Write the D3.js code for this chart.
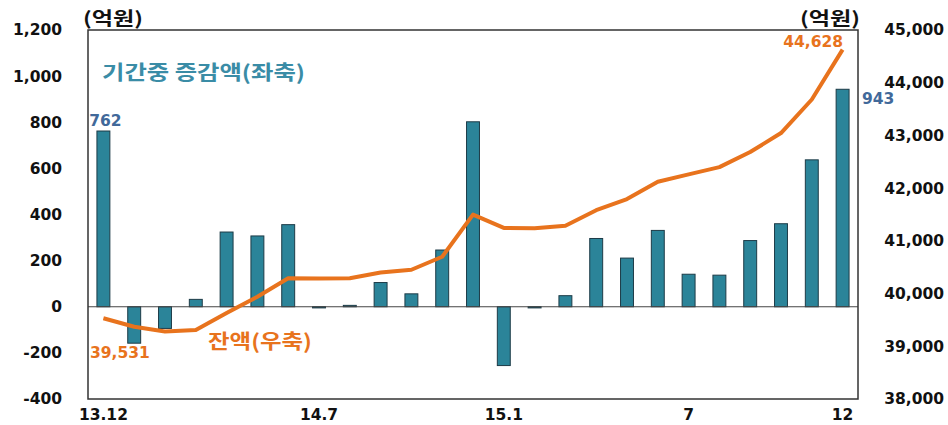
<!DOCTYPE html>
<html>
<head>
<meta charset="utf-8">
<script src="https://cdn.jsdelivr.net/npm/d3@7"></script>
<style>
  body { margin: 0; background: #fff; }
  svg { display: block; }
  .num { font-family: "DejaVu Sans", Verdana, sans-serif; font-weight: bold; }
  .kr { font-family: "Noto Sans CJK KR", "Noto Sans", sans-serif; font-weight: bold; }
</style>
</head>
<body>
<svg class="chart" width="948" height="425"></svg>
<script>
// months 13.12 ~ 15.12
const months = ["13.12","14.1","14.2","14.3","14.4","14.5","14.6","14.7","14.8","14.9","14.10","14.11","14.12",
  "15.1","15.2","15.3","15.4","15.5","15.6","15.7","15.8","15.9","15.10","15.11","15.12"]
const xTickMonths = ["13.12","14.7","15.1","15.7","15.12"]
const xTickLabels = ["13.12","14.7","15.1","7","12"]

// 기간중 증감액 (left axis, 억원)
const changeValues = [762, -158, -94, 32, 324, 307, 356, -5, 6, 105, 56, 246, 802,
  -255, -5, 48, 296, 211, 331, 141, 137, 287, 360, 637, 943]
// 잔액 (right axis, 억원)
const balanceValues = [39531, 39371, 39280, 39310, 39630, 39940, 40290, 40285, 40292, 40398, 40452, 40698, 41498,
  41245, 41240, 41288, 41582, 41792, 42122, 42262, 42398, 42685, 43045, 43682, 44628]

const leftTicks = [-400, -200, 0, 200, 400, 600, 800, 1000, 1200]
const rightTicks = [38000, 39000, 40000, 41000, 42000, 43000, 44000, 45000]

const svg = d3.select("svg.chart")
const plotL = 88, plotR = 858, plotT = 30, plotB = 399

// hyphen instead of unicode minus, like the original
const fmt = d => d3.format(",")(d).replace("\u2212", "-")

const x = d3.scaleBand()
  .domain(months)
  .range([plotL, plotR])
  .paddingInner(0.58)
  .paddingOuter(0.29)

const yL = d3.scaleLinear().domain([-400, 1200]).range([plotB, plotT])
const yR = d3.scaleLinear().domain([38000, 45000]).range([plotB, plotT])

//bars
svg.append("g")
  .selectAll("rect")
  .data(changeValues)
  .enter()
  .append("rect")
  .attr("x", (d, i) => x(months[i]))
  .attr("y", d => d >= 0 ? yL(d) : yL(0))
  .attr("width", x.bandwidth())
  .attr("height", d => Math.abs(yL(d) - yL(0)))
  .attr("fill", "#2b8499")
  .attr("stroke", "#1d3b47")
  .attr("stroke-width", 1)

// zero line
svg.append("line")
  .attr("x1", plotL).attr("x2", plotR)
  .attr("y1", yL(0)).attr("y2", yL(0))
  .attr("stroke", "#444").attr("stroke-width", 1)

// frame
svg.append("rect")
  .attr("x", plotL).attr("y", plotT)
  .attr("width", plotR - plotL).attr("height", plotB - plotT)
  .attr("fill", "none")
  .attr("stroke", "#333")
  .attr("stroke-width", 1.5)

//balance line
const line = d3.line()
  .x((d, i) => x(months[i]) + x.bandwidth() / 2)
  .y(d => yR(d))

svg.append("path")
  .datum(balanceValues)
  .attr("d", line)
  .attr("fill", "none")
  .attr("stroke", "#e8731d")
  .attr("stroke-width", 4)
  .attr("stroke-linejoin", "round")

// left axis labels
const axisL = d3.axisLeft(yL).tickValues(leftTicks).tickSize(0).tickPadding(26)
  .tickFormat(fmt)
svg.append("g")
  .attr("transform", `translate(${plotL},0)`)
  .call(axisL)
  .call(g => g.select(".domain").remove())
  .selectAll("text")
  .attr("class", "num")
  .attr("font-size", 15.5)
  .attr("fill", "#111")

// right axis labels
const axisR = d3.axisRight(yR).tickValues(rightTicks).tickSize(0).tickPadding(86)
  .tickFormat(fmt)
svg.append("g")
  .attr("transform", `translate(${plotR},0)`)
  .call(axisR)
  .call(g => g.select(".domain").remove())
  .selectAll("text")
  .attr("class", "num")
  .attr("font-size", 15.5)
  .attr("fill", "#111")
  .attr("text-anchor", "end")

// x labels
const axisB = d3.axisBottom(x).tickValues(xTickMonths).tickSize(0).tickPadding(10)
  .tickFormat(d => xTickLabels[xTickMonths.indexOf(d)])
svg.append("g")
  .attr("transform", `translate(0,${plotB})`)
  .call(axisB)
  .call(g => g.select(".domain").remove())
  .selectAll("text")
  .attr("class", "num")
  .attr("font-size", 15.5)
  .attr("fill", "#111")

// units
svg.append("text").attr("class", "kr").attr("x", 83).attr("y", 25)
  .attr("font-size", 18).attr("fill", "#111")
  .attr("textLength", 60).attr("lengthAdjust", "spacingAndGlyphs").text("(억원)")
svg.append("text").attr("class", "kr").attr("x", 800).attr("y", 25)
  .attr("font-size", 18).attr("fill", "#111")
  .attr("textLength", 60).attr("lengthAdjust", "spacingAndGlyphs").text("(억원)")

// series names
svg.append("text").attr("class", "kr").attr("x", 102).attr("y", 80)
  .attr("font-size", 20).attr("fill", "#3a8ca6")
  .attr("textLength", 203).attr("lengthAdjust", "spacingAndGlyphs").text("기간중 증감액(좌축)")
svg.append("text").attr("class", "kr").attr("x", 208).attr("y", 349)
  .attr("font-size", 20).attr("fill", "#e8731d")
  .attr("textLength", 104).attr("lengthAdjust", "spacingAndGlyphs").text("잔액(우축)")

// value labels
const first = 0, last = months.length - 1
svg.append("text").attr("class", "num").attr("font-size", 15.5).attr("fill", "#41699a")
  .attr("x", x(months[first]) + x.bandwidth() / 2 + 2).attr("y", 126)
  .attr("text-anchor", "middle").text(changeValues[first])
svg.append("text").attr("class", "num").attr("font-size", 15.5).attr("fill", "#41699a")
  .attr("x", 862).attr("y", 104).text(changeValues[last])
svg.append("text").attr("class", "num").attr("font-size", 15.5).attr("fill", "#e8731d")
  .attr("x", 843).attr("y", 47).attr("text-anchor", "end").text(fmt(balanceValues[last]))
svg.append("text").attr("class", "num").attr("font-size", 15.5).attr("fill", "#e8731d")
  .attr("x", 90).attr("y", 358).text(fmt(balanceValues[first]))
</script>
</body>
</html>
